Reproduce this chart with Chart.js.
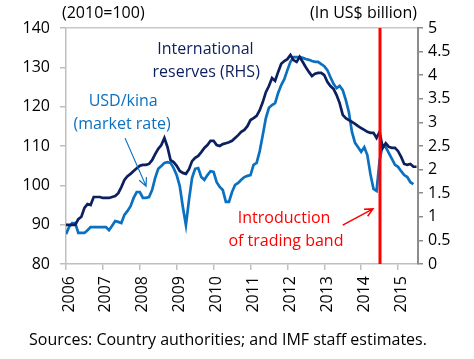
<!DOCTYPE html>
<html>
<head>
<meta charset="utf-8">
<script src="https://cdn.jsdelivr.net/npm/chart.js@4.4.1/dist/chart.umd.min.js"></script>
<style>
  html, body { margin: 0; padding: 0; background: #fff; }
  canvas { display: block; }
</style>
</head>
<body>
<canvas id="chart" width="474" height="359"></canvas>
<script>
// monthly data, starting January 2006
const startYear = 2006;
const yearTicks = [2006, 2007, 2008, 2009, 2010, 2011, 2012, 2013, 2014, 2015];
const tradingBandDate = 2014.5;

// International reserves, US$ billion (RHS)
const reserves = [
  0.83, 0.83, 0.83, 0.83, 0.95, 1.00, 1.19, 1.27, 1.25, 1.42, 1.42, 1.42,
  1.40, 1.40, 1.40, 1.42, 1.44, 1.50, 1.63, 1.78, 1.86, 1.91, 1.97, 2.03,
  2.08, 2.10, 2.10, 2.12, 2.20, 2.33, 2.44, 2.52, 2.67, 2.48, 2.20, 2.16,
  2.08, 1.97, 1.93, 1.91, 2.01, 2.18, 2.25, 2.29, 2.37, 2.46, 2.52, 2.61,
  2.61, 2.52, 2.50, 2.54, 2.56, 2.58, 2.61, 2.67, 2.73, 2.80, 2.84, 2.92,
  3.05, 3.09, 3.14, 3.26, 3.43, 3.64, 3.77, 3.94, 3.88, 4.07, 4.24, 4.30,
  4.34, 4.43, 4.32, 4.28, 4.39, 4.28, 4.17, 4.07, 3.98, 4.03, 4.05, 4.05,
  4.00, 3.86, 3.77, 3.71, 3.58, 3.41, 3.16, 3.09, 3.05, 3.01, 2.97, 2.92,
  2.88, 2.84, 2.80, 2.78, 2.78, 2.67, 2.80, 2.46, 2.56, 2.48, 2.46, 2.46,
  2.39, 2.27, 2.12, 2.10, 2.12, 2.06, 2.06
];

// USD/kina market rate, 2010=100 (LHS)
const usdKina = [
  87.6, 89.4, 90.4, 90.4, 87.9, 87.9, 87.9, 88.6, 89.4, 89.4, 89.4, 89.4,
  89.4, 89.4, 88.6, 89.7, 90.9, 90.7, 90.4, 92.5, 93.5, 94.7, 96.8, 98.3,
  98.3, 96.8, 96.8, 97.0, 98.8, 101.9, 104.2, 104.9, 105.7, 105.9, 105.7, 104.4,
  102.6, 99.8, 94.5, 89.9, 96.3, 101.9, 104.2, 104.4, 102.1, 101.4, 102.6, 103.6,
  103.4, 100.8, 99.6, 98.8, 95.8, 95.8, 98.3, 100.1, 100.6, 101.4, 102.1, 102.4,
  102.6, 105.2, 105.7, 108.7, 112.8, 117.1, 119.7, 120.4, 120.9, 123.5, 125.5, 127.0,
  129.3, 131.4, 132.6, 132.6, 132.6, 132.4, 132.1, 131.9, 131.6, 131.4, 131.4, 130.8,
  130.3, 129.3, 127.5, 125.8, 124.7, 125.3, 124.2, 121.7, 118.6, 113.6, 110.8, 109.7,
  108.5, 109.7, 107.7, 102.9, 99.1, 98.6, 106.4, 110.3, 109.7, 108.2, 106.7, 105.2,
  104.7, 103.6, 102.6, 102.1, 100.8, 100.3
];

const NAVY = '#0c1f5e';
const BLUE = '#0a70c0';
const RED = '#ff0000';
const FONT = "'Open Sans', sans-serif";

function toPoints(values) {
  return values.map((v, i) => ({ x: startYear + i / 12, y: v }));
}

function drawArrow(ctx, x1, y1, x2, y2, color, width) {
  const a = Math.atan2(y2 - y1, x2 - x1), h = 9;
  ctx.strokeStyle = color;
  ctx.lineWidth = width;
  ctx.beginPath();
  ctx.moveTo(x1, y1);
  ctx.lineTo(x2, y2);
  ctx.moveTo(x2 - h * Math.cos(a - 0.45), y2 - h * Math.sin(a - 0.45));
  ctx.lineTo(x2, y2);
  ctx.lineTo(x2 - h * Math.cos(a + 0.45), y2 - h * Math.sin(a + 0.45));
  ctx.stroke();
}

const annotations = {
  id: 'annotations',
  afterDatasetsDraw(chart) {
    const { ctx, chartArea } = chart;
    const sx = chart.scales.x, sy = chart.scales.y;
    const px = v => sx.getPixelForValue(v);
    const py = v => sy.getPixelForValue(v);

    ctx.save();
    // introduction of trading band
    const rx = Math.round(px(tradingBandDate));
    ctx.strokeStyle = RED;
    ctx.lineWidth = 3;
    ctx.beginPath();
    ctx.moveTo(rx, chartArea.top);
    ctx.lineTo(rx, chartArea.bottom);
    ctx.stroke();

    ctx.font = '16px ' + FONT;
    ctx.textAlign = 'center';
    ctx.textBaseline = 'middle';

    ctx.fillStyle = NAVY;
    ctx.fillText('International', px(2009.78), py(134.6));
    ctx.fillText('reserves (RHS)', px(2009.80), py(128.8));

    ctx.fillStyle = BLUE;
    ctx.fillText('USD/kina', px(2007.55), py(121.4));
    ctx.fillText('(market rate)', px(2007.52), py(115.6));
    drawArrow(ctx, px(2007.60), py(112.0), px(2008.17), py(99.8), BLUE, 1.2);

    ctx.fillStyle = RED;
    ctx.fillText('Introduction', px(2011.91), py(91.7));
    ctx.fillText('of trading band', px(2011.96), py(85.8));
    drawArrow(ctx, px(2013.50), py(89.9), px(2014.32), py(94.0), RED, 1.5);

    // axis titles and source
    ctx.fillStyle = '#000';
    ctx.textAlign = 'left';
    ctx.fillText('(2010=100)', 62, 13);
    ctx.textAlign = 'right';
    ctx.fillText('(In US$ billion)', 417, 13);
    ctx.textAlign = 'left';
    ctx.fillText('Sources: Country authorities; and IMF staff estimates.', 29, 340);
    ctx.restore();
  }
};

Chart.defaults.font.family = FONT;
Chart.defaults.font.size = 16;
Chart.defaults.color = '#000';

new Chart(document.getElementById('chart'), {
  type: 'line',
  data: {
    datasets: [
      {
        label: 'International reserves (RHS)',
        data: toPoints(reserves),
        yAxisID: 'y2',
        borderColor: NAVY,
        borderWidth: 2.7,
        pointRadius: 0,
        tension: 0
      },
      {
        label: 'USD/kina (market rate)',
        data: toPoints(usdKina),
        yAxisID: 'y',
        borderColor: BLUE,
        borderWidth: 2.7,
        pointRadius: 0,
        tension: 0
      }
    ]
  },
  options: {
    responsive: false,
    animation: false,
    layout: { padding: { top: 28, left: 0, right: 0, bottom: 0 } },
    plugins: {
      legend: { display: false },
      tooltip: { enabled: false }
    },
    scales: {
      x: {
        type: 'linear',
        min: 2006,
        max: 2015.54,
        afterBuildTicks: s => { s.ticks = yearTicks.map(v => ({ value: v })); },
        afterFit: s => { s.height = 95; },
        ticks: {
          minRotation: 90,
          maxRotation: 90,
          padding: 6,
          labelOffset: 3,
          callback: v => String(v)
        },
        grid: { drawOnChartArea: false, tickLength: 6, color: '#bfbfbf', lineWidth: 1.5 },
        border: { color: '#bfbfbf', width: 1.5 }
      },
      y: {
        position: 'left',
        min: 80,
        max: 140,
        afterFit: s => { s.width = 66; },
        ticks: { stepSize: 10, padding: 10 },
        grid: {
          color: c => (c.tick && c.tick.value === 140 ? '#c8c8c8' : 'rgba(0,0,0,0)'),
          tickColor: '#bfbfbf',
          tickLength: 6,
          lineWidth: 1.5
        },
        border: { color: '#bfbfbf', width: 1.5 }
      },
      y2: {
        position: 'right',
        min: 0,
        max: 5,
        afterFit: s => { s.width = 56; },
        ticks: { stepSize: 0.5, padding: 5, callback: v => String(Math.round(v * 10) / 10) },
        grid: { drawOnChartArea: false, tickLength: 5, color: '#8c8c8c', lineWidth: 1.5 },
        border: { color: '#8c8c8c', width: 2 }
      }
    }
  },
  plugins: [annotations]
});
</script>
</body>
</html>
